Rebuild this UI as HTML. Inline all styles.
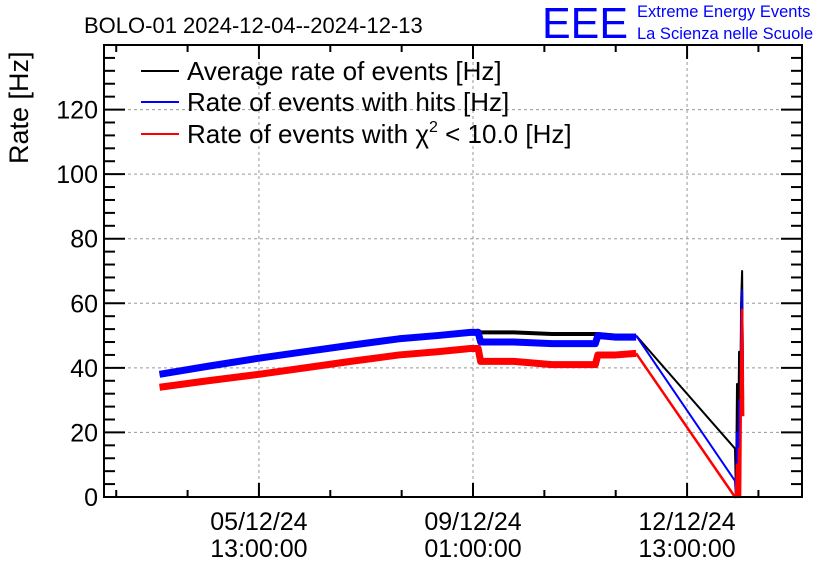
<!DOCTYPE html>
<html><head><meta charset="utf-8"><style>
body{margin:0;background:#fff;}
svg{display:block;font-family:"Liberation Sans",sans-serif;}
</style></head><body>
<svg id="chart" width="836" height="572" viewBox="0 0 836 572">
<text x="84" y="33" font-size="22">BOLO-01 2024-12-04--2024-12-13</text>
<g>
<text x="542" y="38" font-size="44" fill="#0000ff" textLength="86" lengthAdjust="spacingAndGlyphs">EEE</text>
<text x="637" y="17" font-size="16.5" fill="#0000ff">Extreme Energy Events</text>
<text x="637" y="39" font-size="16.5" fill="#0000ff">La Scienza nelle Scuole</text>
</g>
<text transform="translate(28,164) rotate(-90)" font-size="27">Rate [Hz]</text>
<g id="grid"></g><g id="series"></g><g id="axes"></g>
<g>
<g><line x1="141" y1="71" x2="179" y2="71" stroke="#000" stroke-width="2"/><text x="187" y="80" font-size="26">Average rate of events [Hz]</text></g>
<g><line x1="141" y1="102" x2="179" y2="102" stroke="#00f" stroke-width="2"/><text x="187" y="111" font-size="26">Rate of events with hits [Hz]</text></g>
<g><line x1="141" y1="134" x2="179" y2="134" stroke="#f00" stroke-width="2"/><text x="187" y="143" font-size="26">Rate of events with χ<tspan font-size="16" dy="-11">2</tspan><tspan dy="11"> &lt; 10.0 [Hz]</tspan></text></g>
</g>
</svg>
<script>
// time in hours relative to 05/12/24 13:00
const noisyTimes=[-39,-20,0,18,36,55,70,83,86,87,100,115,130,132,133,140,148];
const avgNoisy=[38,40.5,43,45,47,49,50,51,51.5,51,51,50.5,50.5,50.5,50.5,50,50];
const hitsNoisy=[38,40.5,43,45,47,49,50,51,51,48,48,47.5,47.5,47.5,50,49.5,49.5];
const chiNoisy=[34,36,38,40,42,44,45,46,46,42,42,41,41,41,44,44,44.5];
const tailTimes=[148,186.8,187.2,187.6,188,188.4,188.8,189.2,189.6,190];
const avgTail=[50,15,0,35,10,45,20,60,70,30];
const hitsTail=[50,5,0,20,8,30,14,55,64,36];
const chiTail=[44.5,0,0,10,0,15,0,40,58,25];
const yTicks=[0,20,40,60,80,100,120];
const xTickTimes=[0,84,168];
const xTickLabels=[["05/12/24","13:00:00"],["09/12/24","01:00:00"],["12/12/24","13:00:00"]];
const X0=104,X1=802,Y0=497,Y1=45,TMIN=-60.8,TMAX=213.1,VMAX=140;
const sx=t=>X0+(t-TMIN)/(TMAX-TMIN)*(X1-X0);
const sy=v=>Y0-v/VMAX*(Y0-Y1);
const NS="http://www.w3.org/2000/svg";
function mk(tag,attrs,parent){const e=document.createElementNS(NS,tag);for(const k in attrs)e.setAttribute(k,attrs[k]);parent.appendChild(e);return e;}
const grid=document.getElementById('grid'),ser=document.getElementById('series'),ax=document.getElementById('axes');
yTicks.forEach(v=>{if(v===0)return;const l=mk('line',{x1:X0,x2:X1,y1:sy(v),y2:sy(v),stroke:'#999','stroke-dasharray':'3,3'},grid);

});
xTickTimes.forEach(t=>{const l=mk('line',{x1:sx(t),x2:sx(t),y1:Y0,y2:Y1,stroke:'#999','stroke-dasharray':'3,3'},grid);

});
function draw(times,vals,color,w,name){const p=mk('polyline',{points:times.map((t,i)=>sx(t)+','+sy(vals[i])).join(' '),fill:'none',stroke:color,'stroke-width':w,'stroke-linejoin':'round'},ser);

}
draw(noisyTimes,avgNoisy,'#000',4,'series-average');
draw(tailTimes,avgTail,'#000',2,'series-average-tail');
draw(noisyTimes,hitsNoisy,'#00f',7,'series-hits');
draw(tailTimes,hitsTail,'#00f',2,'series-hits-tail');
draw(noisyTimes,chiNoisy,'#f00',7,'series-chi2');
draw(tailTimes,chiTail,'#f00',2.5,'series-chi2-tail');
const fr=mk('rect',{x:X0,y:Y1,width:X1-X0,height:Y0-Y1,fill:'none',stroke:'#000','stroke-width':2},ax);


for(let v=0;v<=VMAX;v+=4){const len=v%20===0?21:11;
mk('line',{x1:X0,x2:X0+len,y1:sy(v),y2:sy(v),stroke:'#000','stroke-width':2},ax);
mk('line',{x1:X1,x2:X1-len,y1:sy(v),y2:sy(v),stroke:'#000','stroke-width':2},ax);}
yTicks.forEach(v=>{const t=mk('text',{x:X0-6,y:sy(v)+9,'font-size':25,'text-anchor':'end'},ax);t.textContent=v;

});
for(let t=-56;t<=TMAX;t+=28){const major=xTickTimes.includes(t);const len=major?14:7;
mk('line',{x1:sx(t),x2:sx(t),y1:Y0,y2:Y0-len,stroke:'#000','stroke-width':2},ax);
mk('line',{x1:sx(t),x2:sx(t),y1:Y1,y2:Y1+len,stroke:'#000','stroke-width':2},ax);}
xTickTimes.forEach((t,i)=>{const tx=mk('text',{x:sx(t),y:530,'font-size':25,'text-anchor':'middle'},ax);tx.textContent=xTickLabels[i][0];


const t2=mk('text',{x:sx(t),y:557,'font-size':25,'text-anchor':'middle'},ax);t2.textContent=xTickLabels[i][1];

});
</script>
</body></html>
